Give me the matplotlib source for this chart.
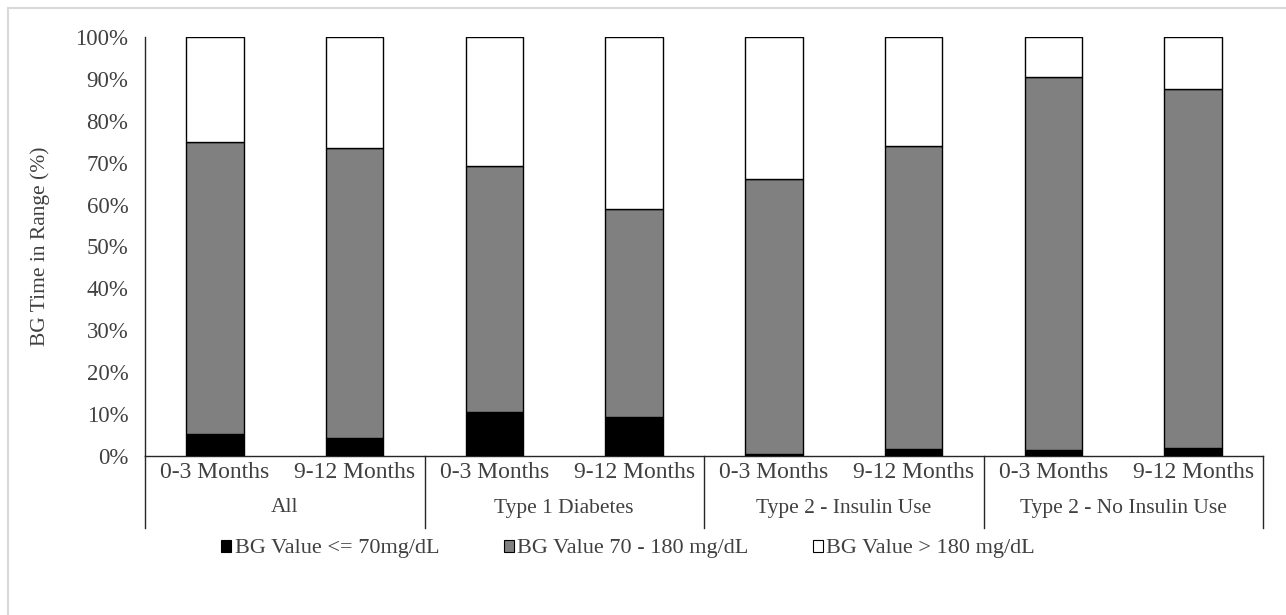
import matplotlib
matplotlib.use("Agg")
import matplotlib.pyplot as plt
from matplotlib.patches import Patch, Rectangle
from matplotlib.ticker import PercentFormatter
import matplotlib.transforms as mtransforms
import numpy as np

plt.rcParams['font.family'] = ['Liberation Serif', 'DejaVu Serif']

groups = ["All", "Type 1 Diabetes", "Type 2 - Insulin Use", "Type 2 - No Insulin Use"]
periods = ["0-3 Months", "9-12 Months"]

# shares of time, one value per bar (group x period)
low = [5.2, 4.3, 10.4, 9.4, 0.5, 1.6, 1.4, 1.8]          # <= 70 mg/dL
in_range_top = [75.0, 73.5, 69.2, 59.0, 66.0, 74.0, 90.5, 87.5]  # cumulative top of grey
mid = [t - l for t, l in zip(in_range_top, low)]          # 70 - 180 mg/dL
high = [100 - t for t in in_range_top]                    # > 180 mg/dL

series_names = ["BG Value <= 70mg/dL", "BG Value 70 - 180 mg/dL", "BG Value > 180 mg/dL"]
series_colors = ["#000000", "#808080", "#ffffff"]

txt = "#404040"
W, H = 1286, 615
y0, y100 = 456, 37   # pixel rows of 0% and 100%
ah = y0 - y100

fig = plt.figure(figsize=(W / 100, H / 100), dpi=100)
ax = fig.add_axes([145 / W, 1 - y0 / H, (1263 - 145) / W, ah / H])

x = np.arange(len(low))
w = 0.41
bottom = np.zeros(len(low))
for vals, col in zip([low, mid, high], series_colors):
    ax.bar(x, vals, w, bottom=bottom, color=col, edgecolor="#000000", linewidth=1.0, zorder=3)
    bottom += np.array(vals)

ax.set_xlim(-0.5, len(low) - 0.5)
ax.set_ylim(0, 100)
ax.set_yticks(np.arange(0, 101, 10))
ax.yaxis.set_major_formatter(PercentFormatter(decimals=0))
ax.tick_params(axis="y", length=0, pad=12, labelsize=16.5, labelcolor=txt)
ax.set_ylabel("BG Time in Range (%)", fontsize=15.5, color=txt, labelpad=18)

ax.set_xticks(x)
ax.set_xticklabels(periods * len(groups))
ax.tick_params(axis="x", length=0, pad=4, labelsize=17, labelcolor=txt)

for s in ["top", "right"]:
    ax.spines[s].set_visible(False)
for s in ["left", "bottom"]:
    ax.spines[s].set_color("#262626")
    ax.spines[s].set_linewidth(1.0)

# multi-level category box
trans = mtransforms.blended_transform_factory(ax.transData, ax.transAxes)
line_bottom = -(528 - y0) / ah
for b in np.arange(-0.5, len(low), 2):
    ax.plot([b, b], [0, line_bottom], transform=trans, color="#262626", lw=1.0, clip_on=False)
for i, g in enumerate(groups):
    ax.text(2 * i + 0.5, -(508 - y0) / ah, g, transform=trans, ha="center", va="center",
            fontsize=15.5, color=txt)

handles = [Patch(facecolor=c, edgecolor="#000000", linewidth=0.8) for c in series_colors]
fig.legend(handles, series_names, loc="center", bbox_to_anchor=(628 / W, 1 - 549 / H),
           ncol=3, frameon=False, fontsize=16, handlelength=0.45, handleheight=0.45,
           handletextpad=0.15, columnspacing=2.9, labelcolor=txt)

# light frame of the chart area
fig.patches.append(Rectangle((8 / W, -0.1), 1.2, 1 - 8 / H + 0.1, transform=fig.transFigure,
                             fill=False, edgecolor="#d9d9d9", linewidth=1.5))

fig.savefig("out.png", dpi=100)
